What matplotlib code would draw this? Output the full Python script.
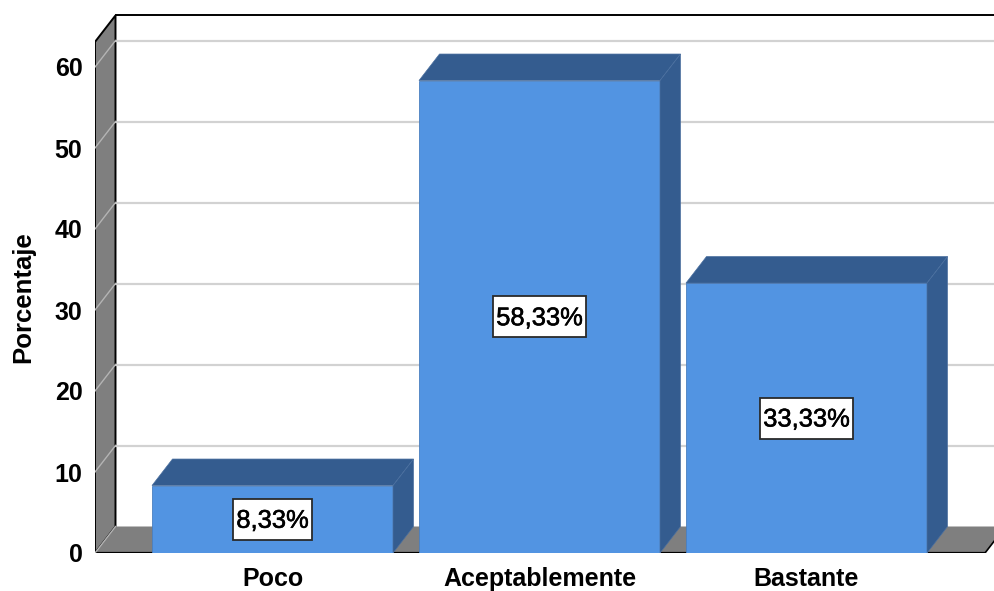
import matplotlib
matplotlib.use('Agg')
import matplotlib.pyplot as plt
import matplotlib.patheffects as pe
from matplotlib.patches import Polygon, Rectangle

plt.rcParams['font.family'] = ['Liberation Sans', 'DejaVu Sans']

categories = ["Poco", "Aceptablemente", "Bastante"]
values = [8.33, 58.33, 33.33]
value_labels = ["8,33%", "58,33%", "33,33%"]
y_ticks = [0, 10, 20, 30, 40, 50, 60]

W, H = 994, 591
PX_X = 267.0   # pixels per category
PX_Y = 8.1     # pixels per percent
DX = 20.5 / PX_X
DY = 26.5 / PX_Y
BAR_W = 241 / PX_X
FRONT = '#5294e2'
DARK = '#345c8f'
WALL = '#7f7f7f'
GRID = '#d2d2d2'

fig = plt.figure(figsize=(W / 100, H / 100), dpi=100)
ax = fig.add_axes([95 / W, 38 / H, (W - 95) / W, 553 / H])
x0 = (95 - 272.5) / PX_X
xend = (985 - 272.5) / PX_X
ax.set_xlim(x0, (W - 272.5) / PX_X)
ax.set_ylim(0, 553 / PX_Y)
for s in ax.spines.values():
    s.set_visible(False)

ytop = 63.1

# side wall and floor
ax.add_patch(Polygon([(x0, 0), (x0 + DX, DY), (x0 + DX, ytop + DY), (x0, ytop)],
                     fc=WALL, ec='black', lw=1.4, zorder=1, joinstyle='miter'))
ax.add_patch(Polygon([(x0, 0), (x0 + DX, DY), (xend + DX, DY), (xend, 0)],
                     fc=WALL, ec='none', zorder=1, clip_on=False))
ax.plot([x0, xend], [0, 0], color='black', lw=1.6, zorder=1.5, solid_capstyle='butt')
ax.plot([xend, xend + DX], [0, DY], color='black', lw=1.2, zorder=1.5)
ax.plot([x0 + DX, xend + DX], [ytop + DY, ytop + DY], color='black', lw=1.4, zorder=1.5)

# gridlines on back wall and side wall
for t in y_ticks[1:]:
    ax.plot([x0 + DX, xend + DX], [t + DY, t + DY], color=GRID, lw=1.6, zorder=1.2)
    ax.plot([x0, x0 + DX], [t, t + DY], color='#b4b4b4', lw=1, zorder=1.2)
ax.plot([x0, x0 + DX], [0, DY], color='#b4b4b4', lw=1, zorder=1.6)

# bars
xs = list(range(len(categories)))
ax.bar(xs, values, width=BAR_W, color=FRONT, edgecolor='#4a7fc0', linewidth=0.6, zorder=3)
for x, v in zip(xs, values):
    l, r = x - BAR_W / 2, x + BAR_W / 2
    ax.add_patch(Polygon([(l, v), (l + DX, v + DY), (r + DX, v + DY), (r, v)],
                         fc=DARK, ec='#4a6f9f', lw=0.5, zorder=3))
    ax.add_patch(Polygon([(r, 0), (r + DX, DY), (r + DX, v + DY), (r, v)],
                         fc=DARK, ec='#4a6f9f', lw=0.5, zorder=3))

# value labels, box is taller than the text so it gets sized by hand
renderer = fig.canvas.get_renderer()
for x, v, lab in zip(xs, values, value_labels):
    txt = ax.text(x, v / 2 - 1.5 / PX_Y, lab, ha='center', va='center', fontsize=18.4,
                  color='black', zorder=5,
                  path_effects=[pe.withStroke(linewidth=0.4, foreground='black')])
    box_w = (txt.get_window_extent(renderer).width + 6) / PX_X
    box_h = 41 / PX_Y
    ax.add_patch(Rectangle((x - box_w / 2, v / 2 - box_h / 2), box_w, box_h,
                           fc='white', ec='#2a2a2a', lw=1.3, zorder=4))

ax.set_xticks(xs)
ax.set_xticklabels(categories, fontsize=18, fontweight='bold')
ax.set_yticks(y_ticks)
ax.set_yticklabels([str(t) for t in y_ticks], fontsize=18, fontweight='bold')
ax.tick_params(axis='both', length=0)
ax.tick_params(axis='y', pad=9)
ax.tick_params(axis='x', pad=10)
ax.set_ylabel('Porcentaje', fontsize=18.5, fontweight='bold')
ax.yaxis.set_label_coords(-60 / (W - 95), 256 / 553)

fig.savefig('out.png', dpi=100)
